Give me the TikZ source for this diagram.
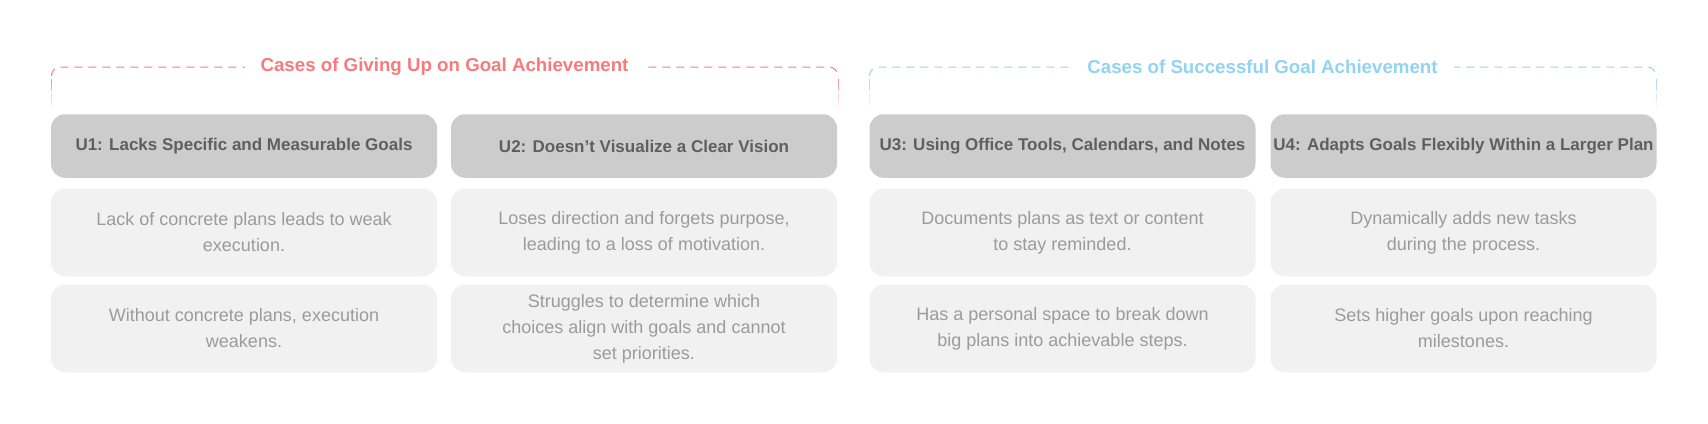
\documentclass[tikz,border=0pt]{standalone}
\usepackage{fontspec}
\setmainfont{Liberation Sans}
\definecolor{hdrfill}{HTML}{CCCCCC}
\definecolor{bodyfill}{HTML}{F1F1F1}
\definecolor{hdrtext}{HTML}{5F5F5F}
\definecolor{bodytext}{HTML}{9B9B9B}
\definecolor{redc}{HTML}{F77B7B}
\definecolor{bluec}{HTML}{92D3F4}
\tikzset{
  hdr/.style={fill=hdrfill, rounded corners=14pt, minimum width=386pt, minimum height=63.5pt, inner sep=0pt,
     text=hdrtext, font=\fontsize{17}{20}\selectfont\bfseries, align=center},
  body/.style={fill=bodyfill, rounded corners=14pt, minimum width=386pt, minimum height=87.5pt, inner sep=0pt,
     text=bodytext, font=\fontsize{18}{26}\selectfont, align=center},
  topline/.style={dash pattern=on 8pt off 6pt, line width=1pt, rounded corners=9pt},
  sidepiece/.style={line width=1pt},
  ttl/.style={fill=white, inner xsep=16pt, inner ysep=2pt, font=\fontsize{18.7}{22}\selectfont\bfseries}
}
\begin{document}
\begin{tikzpicture}[x=1pt,y=-1pt]
\useasboundingbox (0,0) rectangle (1708,423);
% brackets: top lines
\draw[topline, redc] (51.5,76) -- (51.5,67) -- (838,67) -- (838,76);
\draw[topline, bluec] (869.5,76) -- (869.5,67) -- (1656,67) -- (1656,76);
% brackets: fading sides
\foreach \xx/\cc in {51.5/redc, 838/redc, 869.5/bluec, 1656/bluec}{
  \foreach \y [evaluate=\y as \op using {max(0.08,0.85-(\y-78)/34)}] in {79,82,85,88,94,97,100,103,106}{
    \draw[sidepiece, \cc, opacity=\op] (\xx,\y) -- (\xx,\y+3);
  }
}
\node[ttl, text=redc] (tl) at (444.5,67) {Cases of Giving Up on Goal Achievement};
\node[ttl, text=bluec] (tr) at (1262.5,67) {Cases of Successful Goal Achievement};
% headers
\node[hdr] (h1) at (244,146) {U1: Lacks Specific and Measurable Goals};
\node[hdr] (h2) at (644,146) {U2: Doesn’t Visualize a Clear Vision};
\node[hdr] (h3) at (1062.5,146) {U3: Using Office Tools, Calendars, and Notes};
\node[hdr] (h4) at (1463.5,146) {U4: Adapts Goals Flexibly Within a Larger Plan};
% row 2
\node[body] (a1) at (244,232.5) {Lack of concrete plans leads to weak\\execution.};
\node[body] (a2) at (644,232.5) {Loses direction and forgets purpose,\\leading to a loss of motivation.};
\node[body] (a3) at (1062.5,232.5) {Documents plans as text or content\\to stay reminded.};
\node[body] (a4) at (1463.5,232.5) {Dynamically adds new tasks\\during the process.};
% row 3
\node[body] (b1) at (244,328.5) {Without concrete plans, execution\\weakens.};
\node[body] (b2) at (644,328.5) {Struggles to determine which\\choices align with goals and cannot\\set priorities.};
\node[body] (b3) at (1062.5,328.5) {Has a personal space to break down\\big plans into achievable steps.};
\node[body] (b4) at (1463.5,328.5) {Sets higher goals upon reaching\\milestones.};
\end{tikzpicture}
\end{document}
